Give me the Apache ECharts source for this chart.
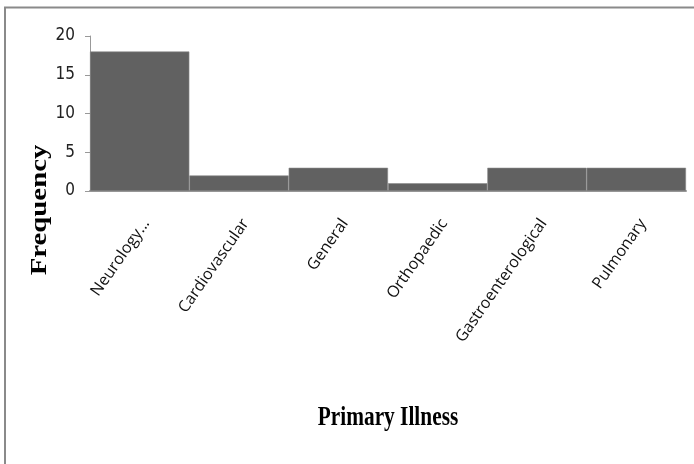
<!DOCTYPE html>
<html>
<head>
<meta charset="utf-8">
<script src="https://cdn.jsdelivr.net/npm/echarts@6/dist/echarts.min.js"></script>
<style>
  html, body { margin: 0; padding: 0; background: #fff; }
  #chart { width: 694px; height: 464px; }
</style>
</head>
<body>
<div id="chart"></div>
<script>
// Primary illness frequency
const categories = ['Neurology...', 'Cardiovascular', 'General', 'Orthopaedic', 'Gastroenterological', 'Pulmonary'];
const frequency = [18, 2, 3, 1, 3, 3];
const yTicks = { min: 0, max: 20, interval: 5 };

const chart = echarts.init(document.getElementById('chart'), null, { renderer: 'canvas' });

chart.setOption({
  animation: false,
  backgroundColor: '#ffffff',
  grid: { left: 90, right: 8, top: 36, bottom: 273 },
  graphic: [
    {
      type: 'rect',
      shape: { x: 5, y: 7.5, width: 720, height: 500 },
      style: { fill: 'none', stroke: '#8a8a8a', lineWidth: 2 },
      silent: true
    },
    {
      type: 'text',
      x: 40, y: 210,
      rotation: Math.PI / 2,
      scaleX: 1.2,
      style: {
        text: 'Frequency',
        font: 'bold 24px "Liberation Serif", serif',
        fill: '#000',
        align: 'center',
        verticalAlign: 'middle'
      }
    },
    {
      type: 'text',
      x: 388, y: 418,
      scaleX: 0.97,
      scaleY: 1.25,
      style: {
        text: 'Primary Illness',
        font: 'bold 22px "Liberation Serif", serif',
        fill: '#000',
        align: 'center',
        verticalAlign: 'middle'
      }
    }
  ],
  xAxis: {
    type: 'category',
    data: categories,
    axisLine: { lineStyle: { color: '#999', width: 2 } },
    axisTick: { show: false },
    axisLabel: {
      rotate: 55,
      margin: 25,
      verticalAlign: 'top',
      fontFamily: '"Open Sans", sans-serif',
      fontSize: 16,
      color: '#111'
    }
  },
  yAxis: {
    type: 'value',
    min: yTicks.min, max: yTicks.max, interval: yTicks.interval,
    splitLine: { show: false },
    axisLine: { show: true, lineStyle: { color: '#999', width: 1 } },
    axisTick: { show: true, length: 5, lineStyle: { color: '#999' } },
    axisLabel: {
      margin: 15,
      fontFamily: '"DejaVu Sans Condensed", "Liberation Sans Narrow", sans-serif',
      fontSize: 17,
      color: '#222'
    }
  },
  series: [{
    type: 'bar',
    data: frequency,
    barCategoryGap: '0%',
    itemStyle: { color: '#616161', borderColor: '#8a8a8a', borderWidth: 0.6 }
  }]
});
</script>
</body>
</html>
